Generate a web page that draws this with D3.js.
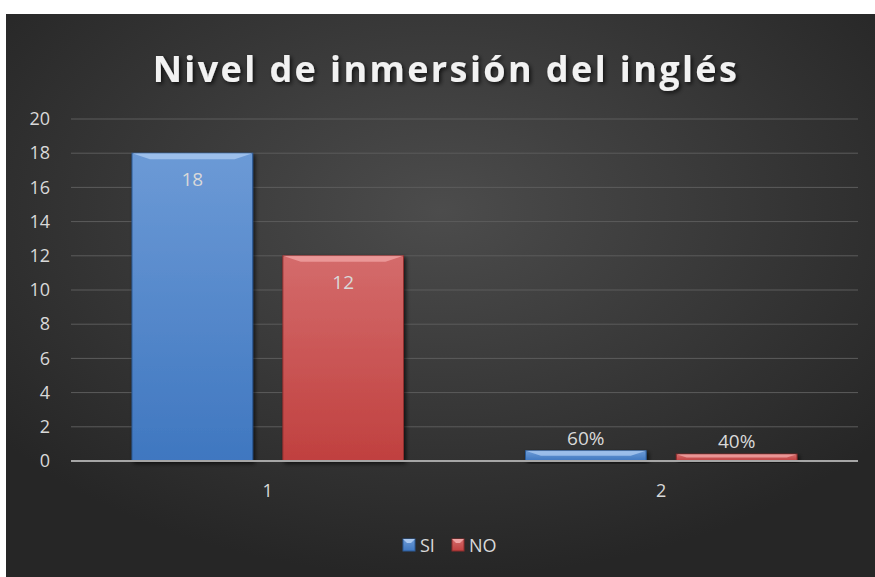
<!DOCTYPE html>
<html>
<head>
<meta charset="utf-8">
<script src="https://cdn.jsdelivr.net/npm/d3@7"></script>
<style>
  body { margin: 0; background: #fff; }
  text { font-family: "Open Sans", "DejaVu Sans", sans-serif; }
</style>
</head>
<body>
<div id="chart"></div>
<script>
// data
const categories = ["1", "2"];
const seriesNames = ["SI", "NO"];
const siValues = [18, 0.6];
const noValues = [12, 0.4];
const siLabels = ["18", "60%"];
const noLabels = ["12", "40%"];
const yTicks = [0, 2, 4, 6, 8, 10, 12, 14, 16, 18, 20];

const width = 875, height = 577;
const margin = {top: 119, right: 17, bottom: 116, left: 71};
const plotW = width - margin.left - margin.right,
      plotH = height - margin.top - margin.bottom;

const colors = {
    SI: {top: "#6c9ad6", bottom: "#3f77c0", bevel: "#a9c8f0", edge: "#2c5a96"},
    NO: {top: "#d46b6b", bottom: "#c0403f", bevel: "#f0a3a3", edge: "#8e2d2d"}
};

let svg = d3.select("#chart").append("svg")
    .attr("width", width)
    .attr("height", height);

let defs = svg.append("defs");

// dark radial background
let bg = defs.append("radialGradient")
    .attr("id", "bg")
    .attr("cx", "50%").attr("cy", "35%").attr("r", "65%");
bg.append("stop").attr("offset", "0%").attr("stop-color", "#4c4c4c");
bg.append("stop").attr("offset", "100%").attr("stop-color", "#262626");

seriesNames.forEach(function(s) {
    let g = defs.append("linearGradient")
        .attr("id", "grad-" + s)
        .attr("x1", 0).attr("y1", 0).attr("x2", 0).attr("y2", 1);
    g.append("stop").attr("offset", "0%").attr("stop-color", colors[s].top);
    g.append("stop").attr("offset", "100%").attr("stop-color", colors[s].bottom);
});

let shadow = defs.append("filter").attr("id", "shadow")
    .attr("x", "-10%").attr("y", "-10%").attr("width", "130%").attr("height", "130%");
shadow.append("feDropShadow")
    .attr("dx", 2).attr("dy", 2).attr("stdDeviation", 2)
    .attr("flood-color", "#000").attr("flood-opacity", 0.7);

svg.append("rect")
    .attr("x", 6).attr("y", 14)
    .attr("width", width - 6).attr("height", height - 14)
    .attr("fill", "url(#bg)");

// title
svg.append("text")
    .attr("x", 446)
    .attr("y", 82)
    .attr("text-anchor", "middle")
    .attr("fill", "#f2f2f2")
    .attr("font-size", 36)
    .attr("font-weight", "bold")
    .attr("letter-spacing", 2.4)
    .attr("filter", "url(#shadow)")
    .text("Nivel de inmersión del inglés");

let group = svg.append("g")
    .attr("transform", "translate(" + margin.left + "," + margin.top + ")");

let y = d3.scaleLinear().domain([0, 20]).range([plotH, 0]);
let x0 = d3.scaleBand().domain(categories).range([0, plotW]);
let x1 = d3.scaleBand().domain(seriesNames)
    .range([61, x0.bandwidth() - 61])
    .paddingInner(0.2);

// grid lines
group.append("g")
    .selectAll("line")
    .data(yTicks.filter(function(d) { return d > 0; }))
    .join("line")
    .attr("x1", 0).attr("x2", plotW)
    .attr("y1", function(d) { return y(d); })
    .attr("y2", function(d) { return y(d); })
    .attr("stroke", "#5c5c5c")
    .attr("stroke-width", 1);

// y axis labels
let yAxis = group.append("g")
    .attr("transform", "translate(-21,0)")
    .call(d3.axisLeft(y).tickValues(yTicks).tickSize(0).tickPadding(0));
yAxis.select(".domain").remove();
yAxis.selectAll("text")
    .attr("fill", "#d9d9d9")
    .attr("font-size", 18)
    .attr("font-family", "'Open Sans', sans-serif");

let rows = categories.map(function(c, i) {
    return [
        {cat: c, s: "SI", v: siValues[i], label: siLabels[i]},
        {cat: c, s: "NO", v: noValues[i], label: noLabels[i]}
    ];
});

let bars = group.append("g")
    .selectAll("g")
    .data(rows)
    .join("g")
    .attr("transform", function(d) { return "translate(" + x0(d[0].cat) + ",0)"; })
    .selectAll("g")
    .data(function(d) { return d; })
    .join("g");

bars.append("rect")
    .attr("x", function(d) { return x1(d.s); })
    .attr("y", function(d) { return y(d.v); })
    .attr("width", x1.bandwidth())
    .attr("height", function(d) { return y(0) - y(d.v); })
    .attr("fill", function(d) { return "url(#grad-" + d.s + ")"; })
    .attr("stroke", function(d) { return colors[d.s].edge; })
    .attr("stroke-width", 1)
    .attr("filter", "url(#shadow)");

// bevel on top edge
bars.append("path")
    .attr("d", function(d) {
        let l = x1(d.s), r = l + x1.bandwidth(), t = y(d.v);
        let b = Math.min(6, (y(0) - t) / 2);
        return "M" + l + "," + t + "L" + r + "," + t + "L" + (r - b * 3) + "," + (t + b) +
            "L" + (l + b * 3) + "," + (t + b) + "Z";
    })
    .attr("fill", function(d) { return colors[d.s].bevel; })
    .attr("opacity", 0.8);

// data labels
bars.append("text")
    .attr("x", function(d) { return x1(d.s) + x1.bandwidth() / 2; })
    .attr("y", function(d) { return d.v > 5 ? y(d.v) + 33 : y(d.v) - 6; })
    .attr("text-anchor", "middle")
    .attr("fill", "#d9d9d9")
    .attr("font-size", 19)
    .text(function(d) { return d.label; });

// baseline
group.append("line")
    .attr("x1", 0).attr("x2", plotW)
    .attr("y1", y(0)).attr("y2", y(0))
    .attr("stroke", "#a6a6a6")
    .attr("stroke-width", 2);

// x axis labels
let xAxis = group.append("g")
    .attr("transform", "translate(0," + (plotH + 23) + ")")
    .call(d3.axisBottom(x0).tickSize(0).tickPadding(0));
xAxis.select(".domain").remove();
xAxis.selectAll("text")
    .attr("fill", "#d9d9d9")
    .attr("font-size", 18)
    .attr("font-family", "'Open Sans', sans-serif");

// legend
let legend = svg.append("g").attr("transform", "translate(403,539)");
let legX = [0, 49];
seriesNames.forEach(function(s, i) {
    let item = legend.append("g").attr("transform", "translate(" + legX[i] + ",0)");
    item.append("rect")
        .attr("width", 12).attr("height", 12)
        .attr("fill", "url(#grad-" + s + ")")
        .attr("stroke", colors[s].edge);
    item.append("path")
        .attr("d", "M0,0L12,0L8,4L4,4Z")
        .attr("fill", colors[s].bevel);
    item.append("text")
        .attr("x", 17).attr("y", 13)
        .attr("fill", "#d9d9d9")
        .attr("font-size", 18)
        .text(s);
});
</script>
</body>
</html>
